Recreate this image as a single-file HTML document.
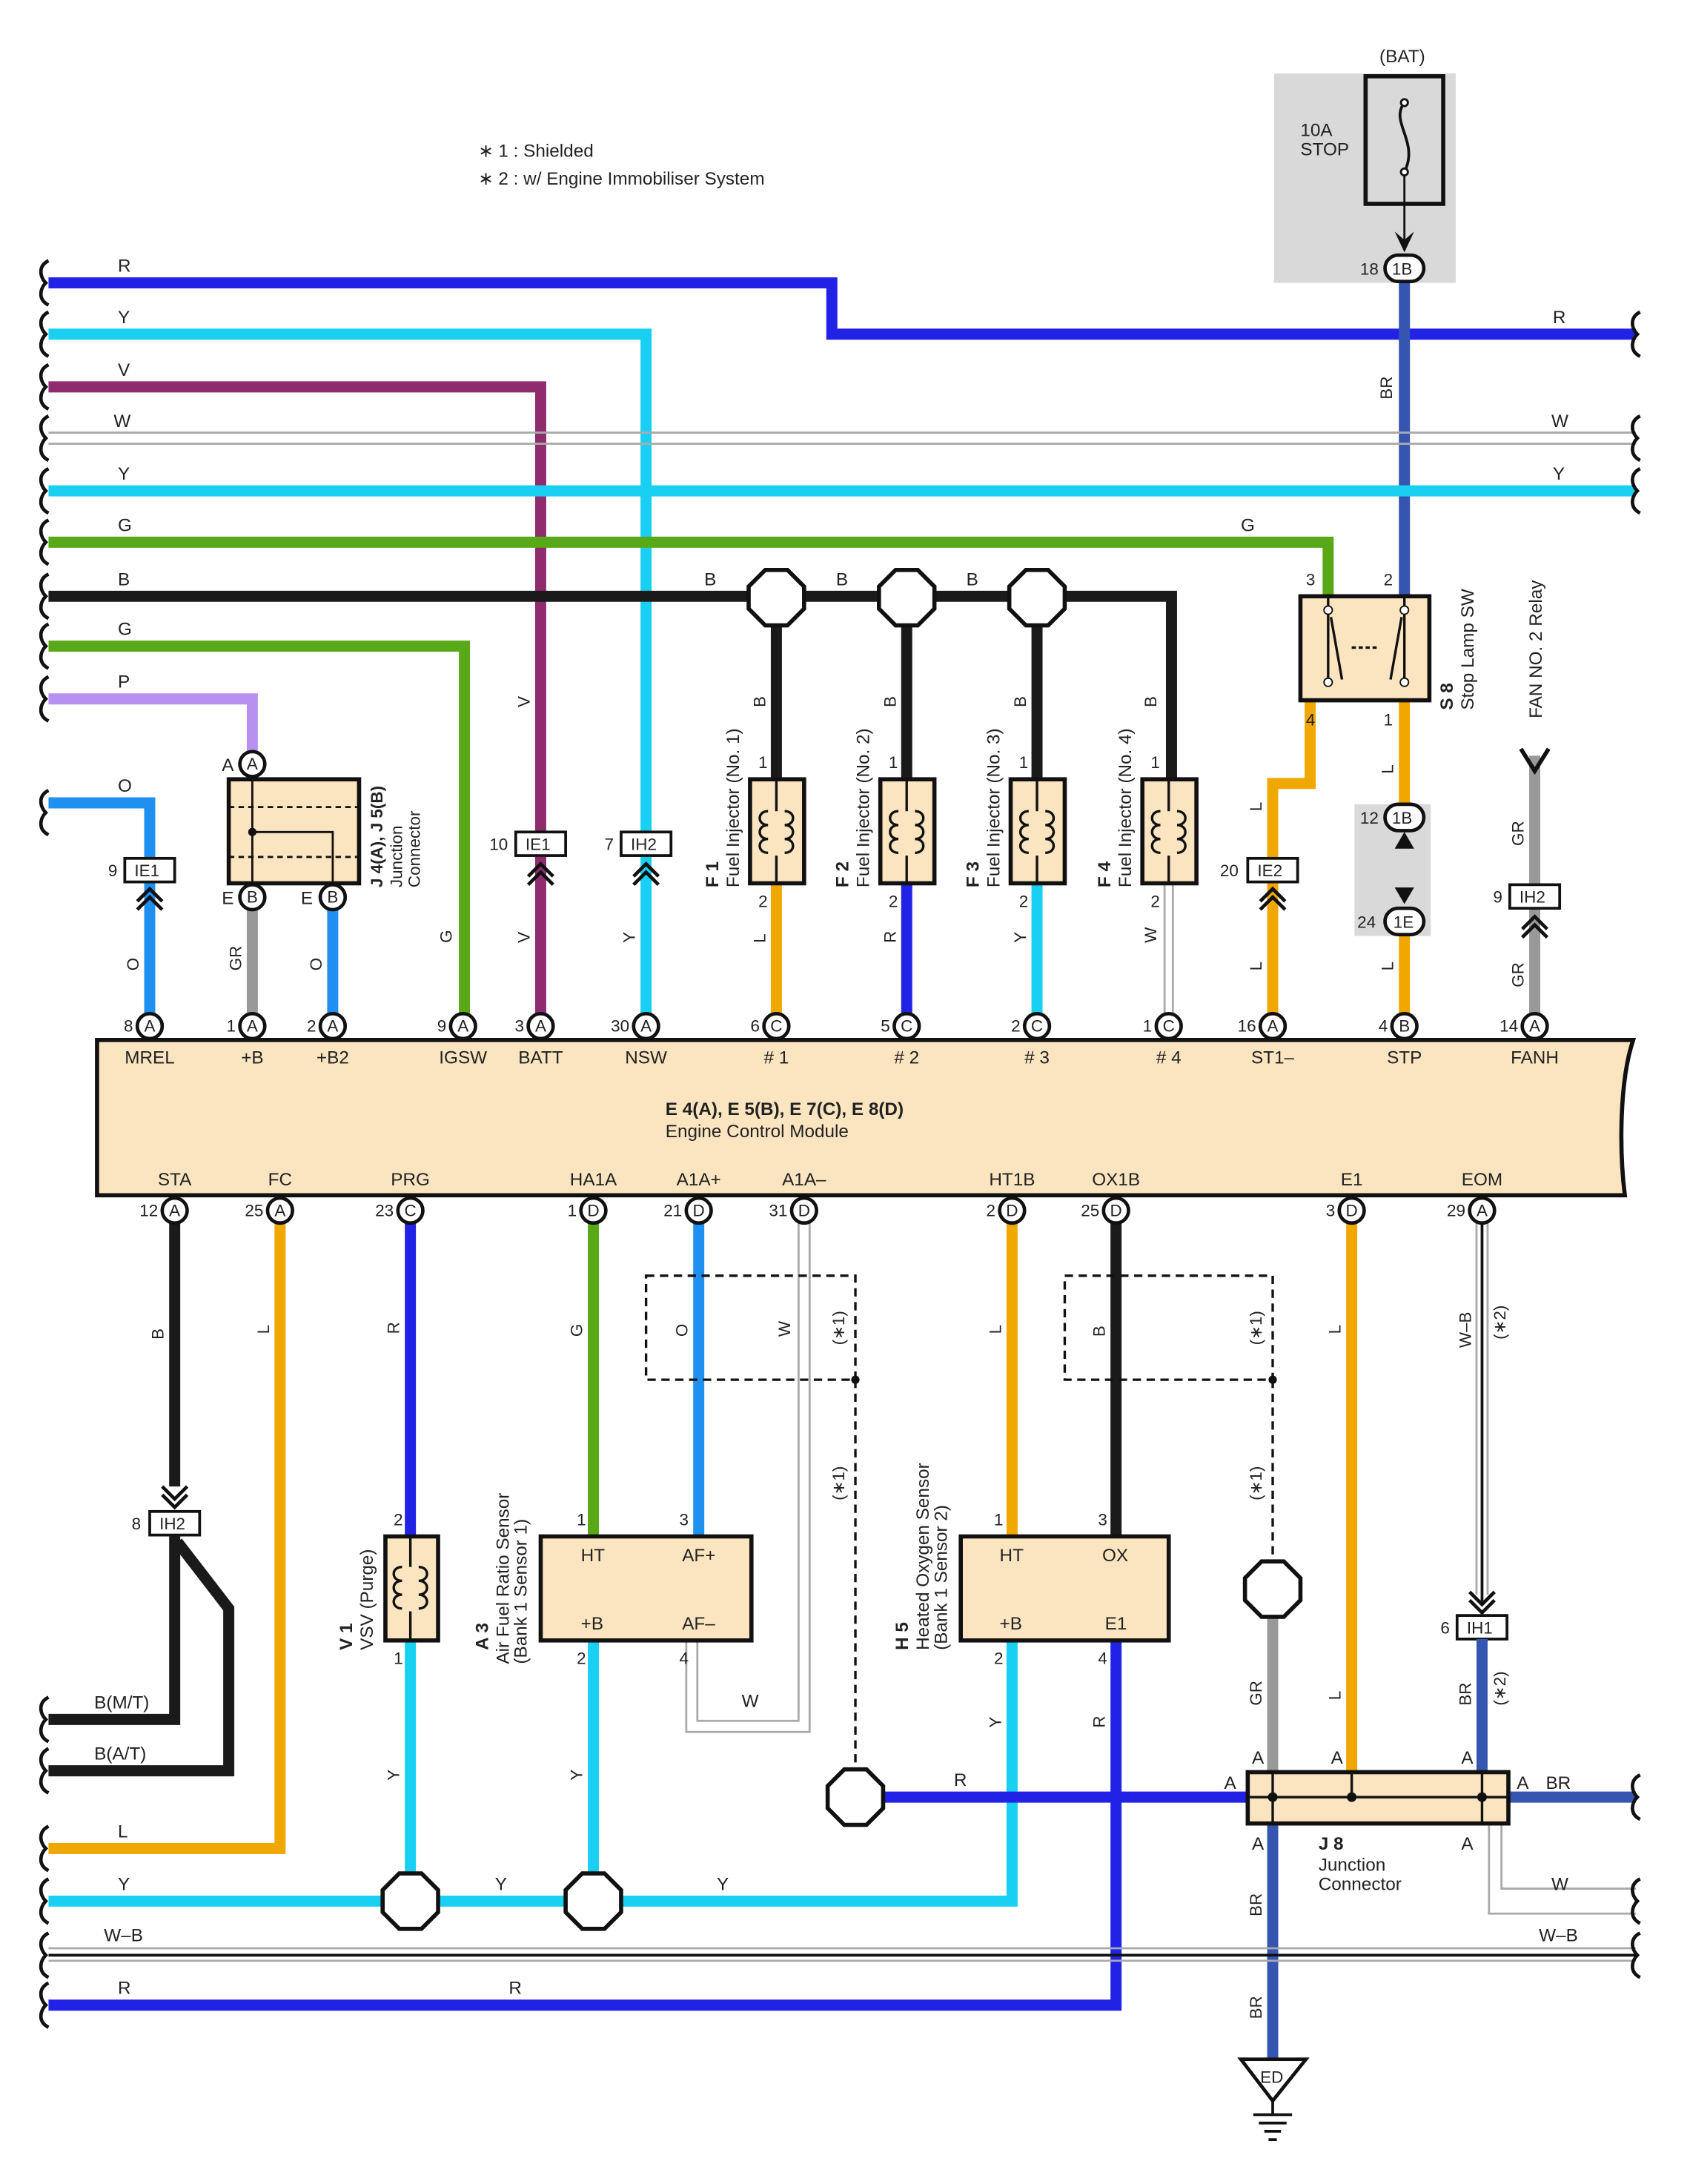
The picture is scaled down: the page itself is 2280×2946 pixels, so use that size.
<!DOCTYPE html>
<html><head><meta charset="utf-8"><style>
html,body{margin:0;padding:0;background:#fff}
svg{display:block}
text{font-family:"Liberation Sans",sans-serif;fill:#222}
</style></head><body>
<svg width="2280" height="2946" viewBox="0 0 1219 1575" preserveAspectRatio="none" xmlns="http://www.w3.org/2000/svg">
<defs>
<g id="wig"><path d="M0,-16 C-8,-12 -6,-4 -2,0 C-6,4 -8,12 0,16" fill="none" stroke="#111" stroke-width="2.5"/></g>
</defs>
<rect width="1219" height="1575" fill="#fff"/>

<!-- notes -->
<text x="345" y="113" font-size="13">∗ 1 : Shielded</text>
<text x="345" y="133" font-size="13">∗ 2 : w/ Engine Immobiliser System</text>

<!-- fuse area -->
<rect x="919" y="53" width="131" height="151" fill="#d9d9d9"/>
<text x="995" y="45" font-size="13">(BAT)</text>
<text x="938" y="98" font-size="13">10A</text>
<text x="938" y="112" font-size="13">STOP</text>
<rect x="985" y="55" width="56" height="92" fill="none" stroke="#111" stroke-width="3"/>
<path d="M1013,74 C1002,88 1024,102 1013,124" fill="none" stroke="#111" stroke-width="2"/>
<circle cx="1013" cy="74" r="2.5" fill="#fff" stroke="#111" stroke-width="1.5"/>
<circle cx="1013" cy="124" r="2.5" fill="#fff" stroke="#111" stroke-width="1.5"/>
<line x1="1013" y1="126" x2="1013" y2="175" stroke="#111" stroke-width="1.5"/>
<path d="M1006,167 L1013,182 L1020,167 L1013,173 Z" fill="#111"/>

<!-- WIRES top -->
<g fill="none" stroke-linejoin="miter">
<polyline points="35,204 600,204 600,241 1180,241" stroke="#2222e6" stroke-width="8"/>
<line x1="1013" y1="204" x2="1013" y2="430" stroke="#3555b0" stroke-width="8"/>
<polyline points="35,241 466,241 466,608" stroke="#1ad0f2" stroke-width="8"/>
<line x1="466" y1="618" x2="466" y2="740" stroke="#1ad0f2" stroke-width="8"/>
<polyline points="35,279 390,279 390,608" stroke="#8e2c6e" stroke-width="8"/>
<line x1="390" y1="618" x2="390" y2="740" stroke="#8e2c6e" stroke-width="8"/>
<line x1="35" y1="312" x2="1180" y2="312" stroke="#aaa" stroke-width="1.5"/>
<line x1="35" y1="320" x2="1180" y2="320" stroke="#aaa" stroke-width="1.5"/>
<line x1="35" y1="354" x2="1180" y2="354" stroke="#1ad0f2" stroke-width="8"/>
<polyline points="35,391 958,391 958,430" stroke="#58a818" stroke-width="8"/>
<polyline points="35,430 845,430 845,562" stroke="#1a1a1a" stroke-width="8"/>
<line x1="560" y1="430" x2="560" y2="562" stroke="#1a1a1a" stroke-width="8"/>
<line x1="654" y1="430" x2="654" y2="562" stroke="#1a1a1a" stroke-width="8"/>
<line x1="748" y1="430" x2="748" y2="562" stroke="#1a1a1a" stroke-width="8"/>
<polyline points="35,466 335,466 335,740" stroke="#58a818" stroke-width="8"/>
<polyline points="35,504 182,504 182,545" stroke="#b890f0" stroke-width="8"/>
<polyline points="35,579 108,579 108,620" stroke="#2090f0" stroke-width="8"/>
<line x1="108" y1="636" x2="108" y2="740" stroke="#2090f0" stroke-width="8"/>
<line x1="182" y1="648" x2="182" y2="740" stroke="#999" stroke-width="8"/>
<line x1="240" y1="648" x2="240" y2="740" stroke="#2090f0" stroke-width="8"/>
<line x1="560" y1="637" x2="560" y2="740" stroke="#f0a800" stroke-width="8"/>
<line x1="654" y1="637" x2="654" y2="740" stroke="#2222e6" stroke-width="8"/>
<line x1="748" y1="637" x2="748" y2="740" stroke="#1ad0f2" stroke-width="8"/>
<line x1="840" y1="637" x2="840" y2="735" stroke="#aaa" stroke-width="1.5"/>
<line x1="846" y1="637" x2="846" y2="735" stroke="#aaa" stroke-width="1.5"/>
<polyline points="945,505 945,565 918,565 918,618" stroke="#f0a800" stroke-width="8"/>
<line x1="918" y1="636" x2="918" y2="740" stroke="#f0a800" stroke-width="8"/>
<line x1="1013" y1="505" x2="1013" y2="740" stroke="#f0a800" stroke-width="8"/>
<line x1="1107" y1="545" x2="1107" y2="740" stroke="#999" stroke-width="8"/>
</g>
<!-- left wiggles -->
<use href="#wig" x="35" y="204"/><use href="#wig" x="35" y="241"/><use href="#wig" x="35" y="279"/>
<use href="#wig" x="35" y="316"/><use href="#wig" x="35" y="354"/><use href="#wig" x="35" y="391"/>
<use href="#wig" x="35" y="430"/><use href="#wig" x="35" y="466"/><use href="#wig" x="35" y="504"/>
<use href="#wig" x="35" y="586"/>
<use href="#wig" x="1183" y="241"/><use href="#wig" x="1183" y="316"/><use href="#wig" x="1183" y="354"/>
<!-- wire labels top -->
<g font-size="13">
<text x="85" y="196">R</text><text x="1120" y="233">R</text>
<text x="85" y="233">Y</text><text x="85" y="271">V</text>
<text x="82" y="308">W</text><text x="1119" y="308">W</text>
<text x="85" y="346">Y</text><text x="1120" y="346">Y</text>
<text x="85" y="383">G</text><text x="895" y="383">G</text>
<text x="85" y="422">B</text><text x="508" y="422">B</text><text x="603" y="422">B</text><text x="697" y="422">B</text>
<text x="85" y="458">G</text><text x="85" y="496">P</text><text x="85" y="571">O</text>
</g>
<g font-size="12">
<text transform="translate(1004,288) rotate(-90)">BR</text>
<text transform="translate(382,510) rotate(-90)">V</text>
<text transform="translate(382,680) rotate(-90)">V</text>
<text transform="translate(458,680) rotate(-90)">Y</text>
<text transform="translate(326,680) rotate(-90)">G</text>
<text transform="translate(100,700) rotate(-90)">O</text>
<text transform="translate(174,700) rotate(-90)">GR</text>
<text transform="translate(232,700) rotate(-90)">O</text>
<text transform="translate(552,510) rotate(-90)">B</text>
<text transform="translate(646,510) rotate(-90)">B</text>
<text transform="translate(740,510) rotate(-90)">B</text>
<text transform="translate(834,510) rotate(-90)">B</text>
<text transform="translate(552,680) rotate(-90)">L</text>
<text transform="translate(646,680) rotate(-90)">R</text>
<text transform="translate(740,680) rotate(-90)">Y</text>
<text transform="translate(834,680) rotate(-90)">W</text>
<text transform="translate(910,585) rotate(-90)">L</text>
<text transform="translate(910,700) rotate(-90)">L</text>
<text transform="translate(1005,558) rotate(-90)">L</text>
<text transform="translate(1005,700) rotate(-90)">L</text>
<text transform="translate(1099,610) rotate(-90)">GR</text>
<text transform="translate(1099,712) rotate(-90)">GR</text>
</g>

<!-- splices top -->
<g fill="#fff" stroke="#111" stroke-width="3">
<polygon points="552,411 568,411 580,423 580,439 568,451 552,451 540,439 540,423" />
<polygon points="646,411 662,411 674,423 674,439 662,451 646,451 634,439 634,423" />
<polygon points="740,411 756,411 768,423 768,439 756,451 740,451 728,439 728,423" />
</g>

<!-- J4/J5 junction -->
<rect x="165" y="562" width="94" height="75" fill="#fbe5c0" stroke="#111" stroke-width="3"/>
<g stroke="#111" stroke-width="1.5" fill="none" stroke-dasharray="4,3">
<line x1="165" y1="582" x2="259" y2="582"/><line x1="165" y1="618" x2="259" y2="618"/>
</g>
<g stroke="#111" stroke-width="1.5" fill="none">
<polyline points="182,560 182,640"/><polyline points="182,600 240,600 240,640"/>
</g>
<circle cx="182" cy="600" r="3" fill="#111"/>
<text font-size="12" transform="translate(276,640) rotate(-90)"><tspan font-weight="bold">J 4(A), J 5(B)</tspan></text>
<text font-size="12" transform="translate(290,640) rotate(-90)">Junction</text>
<text font-size="12" transform="translate(303,640) rotate(-90)">Connector</text>
<g font-size="13"><text x="160" y="556">A</text><text x="160" y="652">E</text><text x="217" y="652">E</text></g>

<!-- injectors -->
<g fill="#fbe5c0" stroke="#111" stroke-width="3">
<rect x="541" y="562" width="39" height="75"/><rect x="635" y="562" width="39" height="75"/>
<rect x="729" y="562" width="39" height="75"/><rect x="824" y="562" width="39" height="75"/>
</g>
<g fill="none" stroke="#111" stroke-width="1.8">
<path d="M560,562 V585 M560,617 V637 M554,585 c-8,0 -8,10 0,10 c-8,0 -8,10 0,10 c-8,0 -8,10 0,10 M566,585 c8,0 8,10 0,10 c8,0 8,10 0,10 c8,0 8,10 0,10"/>
</g>
<g font-size="12">
<text x="547" y="554">1</text><text x="547" y="654">2</text>
<text x="641" y="554">1</text><text x="641" y="654">2</text>
<text x="735" y="554">1</text><text x="735" y="654">2</text>
<text x="830" y="554">1</text><text x="830" y="654">2</text>
</g>
<g font-size="13">
<text transform="translate(518,640) rotate(-90)"><tspan font-weight="bold">F 1</tspan></text>
<text transform="translate(533,640) rotate(-90)">Fuel Injector (No. 1)</text>
<text transform="translate(612,640) rotate(-90)"><tspan font-weight="bold">F 2</tspan></text>
<text transform="translate(627,640) rotate(-90)">Fuel Injector (No. 2)</text>
<text transform="translate(706,640) rotate(-90)"><tspan font-weight="bold">F 3</tspan></text>
<text transform="translate(721,640) rotate(-90)">Fuel Injector (No. 3)</text>
<text transform="translate(801,640) rotate(-90)"><tspan font-weight="bold">F 4</tspan></text>
<text transform="translate(816,640) rotate(-90)">Fuel Injector (No. 4)</text>
</g>
<g fill="none" stroke="#111" stroke-width="1.8">
<path d="M654,562 V585 M654,617 V637 M748,562 V585 M748,617 V637 M843,562 V585 M843,617 V637"/>
<path d="M648,585 c-8,0 -8,10 0,10 c-8,0 -8,10 0,10 c-8,0 -8,10 0,10 M660,585 c8,0 8,10 0,10 c8,0 8,10 0,10 c8,0 8,10 0,10"/>
<path d="M742,585 c-8,0 -8,10 0,10 c-8,0 -8,10 0,10 c-8,0 -8,10 0,10 M754,585 c8,0 8,10 0,10 c8,0 8,10 0,10 c8,0 8,10 0,10"/>
<path d="M837,585 c-8,0 -8,10 0,10 c-8,0 -8,10 0,10 c-8,0 -8,10 0,10 M849,585 c8,0 8,10 0,10 c8,0 8,10 0,10 c8,0 8,10 0,10"/>
</g>

<!-- stop lamp sw -->
<rect x="938" y="430" width="93" height="75" fill="#fbe5c0" stroke="#111" stroke-width="3"/>
<g stroke="#111" stroke-width="1.8" fill="none">
<line x1="958" y1="430" x2="958" y2="440"/><line x1="958" y1="440" x2="958" y2="492"/>
<line x1="1013" y1="430" x2="1013" y2="440"/>
<line x1="960" y1="445" x2="968" y2="490"/><line x1="1013" y1="440" x2="1013" y2="492"/>
<line x1="1011" y1="445" x2="1003" y2="490"/>
<line x1="975" y1="467" x2="995" y2="467" stroke-dasharray="3,2"/>
</g>
<circle cx="958" cy="440" r="3" fill="#fff" stroke="#111"/><circle cx="958" cy="492" r="3" fill="#fff" stroke="#111"/>
<circle cx="1013" cy="440" r="3" fill="#fff" stroke="#111"/><circle cx="1013" cy="492" r="3" fill="#fff" stroke="#111"/>
<g font-size="12"><text x="942" y="422">3</text><text x="998" y="422">2</text><text x="942" y="523">4</text><text x="998" y="523">1</text></g>
<text font-size="13" transform="translate(1048,512) rotate(-90)"><tspan font-weight="bold">S 8</tspan></text>
<text font-size="13" transform="translate(1063,512) rotate(-90)">Stop Lamp SW</text>
<text font-size="13" transform="translate(1112,518) rotate(-90)">FAN NO. 2 Relay</text>
<polyline points="1097,540 1107,556 1117,540" fill="none" stroke="#111" stroke-width="3"/>

<!-- 1B/1E grey -->
<rect x="977" y="580" width="55" height="95" fill="#d9d9d9"/>
<path d="M1006,612 L1013,600 L1020,612 Z M1006,640 L1013,652 L1020,640 Z" fill="#111"/>
<!-- 1B ovals -->
<g fill="#fff" stroke="#111" stroke-width="2.5">
<rect x="999" y="184" width="28" height="19" rx="9.5"/>
<rect x="999" y="580" width="28" height="19" rx="9.5"/>
<rect x="999" y="655" width="28" height="19" rx="9.5"/>
</g>
<g font-size="12"><text x="1004" y="198">1B</text><text x="1004" y="594">1B</text><text x="1005" y="669">1E</text>
<text x="981" y="198">18</text><text x="981" y="594">12</text><text x="979" y="669">24</text></g>

<!-- small connectors -->
<g fill="#fff" stroke="#111" stroke-width="2">
<rect x="90" y="619" width="36" height="17"/>
<rect x="372" y="600" width="36" height="17"/>
<rect x="448" y="600" width="36" height="17"/>
<rect x="900" y="619" width="36" height="17"/>
<rect x="1089" y="638" width="36" height="17"/>
<rect x="108" y="1090" width="36" height="17"/>
<rect x="1051" y="1165" width="36" height="17"/>
</g>
<g font-size="12">
<text x="97" y="632">IE1</text><text x="78" y="632">9</text>
<text x="379" y="613">IE1</text><text x="353" y="613">10</text>
<text x="455" y="613">IH2</text><text x="436" y="613">7</text>
<text x="907" y="632">IE2</text><text x="880" y="632">20</text>
<text x="1096" y="651">IH2</text><text x="1077" y="651">9</text>
<text x="115" y="1103">IH2</text><text x="95" y="1103">8</text>
<text x="1058" y="1178">IH1</text><text x="1039" y="1178">6</text>
</g>
<g fill="none" stroke="#111" stroke-width="2.5">
<polyline points="99,650 108,641 117,650"/><polyline points="99,656 108,647 117,656"/>
<polyline points="381,632 390,623 399,632"/><polyline points="381,638 390,629 399,638"/>
<polyline points="457,632 466,623 475,632"/><polyline points="457,638 466,629 475,638"/>
<polyline points="909,650 918,641 927,650"/><polyline points="909,656 918,647 927,656"/>
<polyline points="1098,670 1107,661 1116,670"/><polyline points="1098,676 1107,667 1116,676"/>
<polyline points="117,1072 126,1081 135,1072"/><polyline points="117,1078 126,1087 135,1078"/>
<polyline points="1060,1148 1069,1157 1078,1148"/><polyline points="1060,1154 1069,1163 1078,1154"/>
</g>

<!-- ECM -->
<path d="M70,750 H1178 C1168,780 1168,830 1172,862 H70 Z" fill="#fbe5c0" stroke="#111" stroke-width="3"/>
<text x="480" y="804" font-size="13" font-weight="bold">E 4(A), E 5(B), E 7(C), E 8(D)</text>
<text x="480" y="820" font-size="13">Engine Control Module</text>
<g font-size="13" text-anchor="middle">
<text x="108" y="767">MREL</text><text x="182" y="767">+B</text><text x="240" y="767">+B2</text>
<text x="334" y="767">IGSW</text><text x="390" y="767">BATT</text><text x="466" y="767">NSW</text>
<text x="560" y="767"># 1</text><text x="654" y="767"># 2</text><text x="748" y="767"># 3</text><text x="843" y="767"># 4</text>
<text x="918" y="767">ST1–</text><text x="1013" y="767">STP</text><text x="1107" y="767">FANH</text>
<text x="126" y="855">STA</text><text x="202" y="855">FC</text><text x="296" y="855">PRG</text>
<text x="428" y="855">HA1A</text><text x="504" y="855">A1A+</text><text x="580" y="855">A1A–</text>
<text x="730" y="855">HT1B</text><text x="805" y="855">OX1B</text><text x="975" y="855">E1</text><text x="1069" y="855">EOM</text>
</g>

<!-- BOTTOM wires -->
<g fill="none">
<line x1="126" y1="882" x2="126" y2="1072" stroke="#1a1a1a" stroke-width="8"/>
<polyline points="126,1107 126,1240 35,1240" stroke="#1a1a1a" stroke-width="8"/>
<polyline points="128,1112 165,1160 165,1277 35,1277" stroke="#1a1a1a" stroke-width="8"/>
<polyline points="202,882 202,1333 35,1333" stroke="#f0a800" stroke-width="8"/>
<line x1="296" y1="882" x2="296" y2="1108" stroke="#2222e6" stroke-width="8"/>
<line x1="296" y1="1183" x2="296" y2="1371" stroke="#1ad0f2" stroke-width="8"/>
<line x1="428" y1="882" x2="428" y2="1108" stroke="#58a818" stroke-width="8"/>
<line x1="428" y1="1183" x2="428" y2="1371" stroke="#1ad0f2" stroke-width="8"/>
<line x1="504" y1="882" x2="504" y2="1108" stroke="#2090f0" stroke-width="8"/>
<polyline points="576,882 576,1241 503,1241 503,1183" stroke="#aaa" stroke-width="1.5"/>
<polyline points="584,882 584,1249 495,1249 495,1183" stroke="#aaa" stroke-width="1.5"/>
<line x1="730" y1="882" x2="730" y2="1108" stroke="#f0a800" stroke-width="8"/>
<line x1="805" y1="882" x2="805" y2="1108" stroke="#1a1a1a" stroke-width="8"/>
<polyline points="730,1183 730,1371 35,1371" stroke="#1ad0f2" stroke-width="8"/>
<polyline points="805,1183 805,1446 35,1446" stroke="#2222e6" stroke-width="8"/>
<line x1="617" y1="1296" x2="900" y2="1296" stroke="#2222e6" stroke-width="8"/>
<line x1="918" y1="1160" x2="918" y2="1280" stroke="#999" stroke-width="8"/>
<line x1="975" y1="882" x2="975" y2="1280" stroke="#f0a800" stroke-width="8"/>
<line x1="1065" y1="882" x2="1065" y2="1150" stroke="#aaa" stroke-width="1.5"/>
<line x1="1073" y1="882" x2="1073" y2="1150" stroke="#aaa" stroke-width="1.5"/>
<line x1="1069" y1="882" x2="1069" y2="1155" stroke="#111" stroke-width="2"/>
<line x1="1069" y1="1182" x2="1069" y2="1280" stroke="#3555b0" stroke-width="8"/>
<line x1="1088" y1="1296" x2="1180" y2="1296" stroke="#3555b0" stroke-width="8"/>
<line x1="918" y1="1315" x2="918" y2="1485" stroke="#3555b0" stroke-width="8"/>
<polyline points="1074,1315 1074,1380 1180,1380" stroke="#aaa" stroke-width="1.5"/>
<polyline points="1083,1315 1083,1362 1180,1362" stroke="#aaa" stroke-width="1.5"/>
<line x1="35" y1="1405" x2="1180" y2="1405" stroke="#aaa" stroke-width="1.5"/>
<line x1="35" y1="1414" x2="1180" y2="1414" stroke="#aaa" stroke-width="1.5"/>
<line x1="35" y1="1410" x2="1180" y2="1410" stroke="#111" stroke-width="2"/>
<!-- dashed shields -->
<g stroke="#111" stroke-width="1.8" stroke-dasharray="6,4">
<rect x="466" y="920" width="151" height="75"/>
<rect x="768" y="920" width="150" height="75"/>
<line x1="617" y1="995" x2="617" y2="1276"/>
<line x1="918" y1="995" x2="918" y2="1126"/>
</g>
</g>
<circle cx="617" cy="995" r="3" fill="#111"/><circle cx="918" cy="995" r="3" fill="#111"/>
<use href="#wig" x="35" y="1240"/><use href="#wig" x="35" y="1277"/><use href="#wig" x="35" y="1333"/>
<use href="#wig" x="35" y="1371"/><use href="#wig" x="35" y="1410"/><use href="#wig" x="35" y="1446"/>
<use href="#wig" x="1183" y="1296"/><use href="#wig" x="1183" y="1371"/><use href="#wig" x="1183" y="1410"/>

<!-- bottom splices -->
<g fill="#fff" stroke="#111" stroke-width="3">
<polygon points="288,1351 304,1351 316,1363 316,1379 304,1391 288,1391 276,1379 276,1363"/>
<polygon points="420,1351 436,1351 448,1363 448,1379 436,1391 420,1391 408,1379 408,1363"/>
<polygon points="609,1276 625,1276 637,1288 637,1304 625,1316 609,1316 597,1304 597,1288"/>
<polygon points="910,1126 926,1126 938,1138 938,1154 926,1166 910,1166 898,1154 898,1138"/>
</g>

<!-- VSV -->
<rect x="278" y="1108" width="38" height="75" fill="#fbe5c0" stroke="#111" stroke-width="3"/>
<path d="M296,1108 V1130 M296,1162 V1183 M290,1130 c-8,0 -8,10 0,10 c-8,0 -8,10 0,10 c-8,0 -8,10 0,10 M302,1130 c8,0 8,10 0,10 c8,0 8,10 0,10 c8,0 8,10 0,10" fill="none" stroke="#111" stroke-width="1.8"/>
<text x="284" y="1100" font-size="12">2</text><text x="284" y="1200" font-size="12">1</text>
<text font-size="13" transform="translate(254,1190) rotate(-90)"><tspan font-weight="bold">V 1</tspan></text>
<text font-size="13" transform="translate(269,1190) rotate(-90)">VSV (Purge)</text>

<!-- A3 -->
<rect x="390" y="1108" width="152" height="75" fill="#fbe5c0" stroke="#111" stroke-width="3"/>
<g font-size="13"><text x="419" y="1126">HT</text><text x="492" y="1126">AF+</text><text x="419" y="1175">+B</text><text x="492" y="1175">AF–</text></g>
<g font-size="12"><text x="416" y="1100">1</text><text x="490" y="1100">3</text><text x="416" y="1200">2</text><text x="490" y="1200">4</text></g>
<text font-size="13" transform="translate(352,1190) rotate(-90)"><tspan font-weight="bold">A 3</tspan></text>
<text font-size="13" transform="translate(367,1200) rotate(-90)">Air Fuel Ratio Sensor</text>
<text font-size="13" transform="translate(380,1200) rotate(-90)">(Bank 1 Sensor 1)</text>

<!-- H5 -->
<rect x="693" y="1108" width="150" height="75" fill="#fbe5c0" stroke="#111" stroke-width="3"/>
<g font-size="13"><text x="721" y="1126">HT</text><text x="795" y="1126">OX</text><text x="721" y="1175">+B</text><text x="797" y="1175">E1</text></g>
<g font-size="12"><text x="717" y="1100">1</text><text x="792" y="1100">3</text><text x="717" y="1200">2</text><text x="792" y="1200">4</text></g>
<text font-size="13" transform="translate(655,1190) rotate(-90)"><tspan font-weight="bold">H 5</tspan></text>
<text font-size="13" transform="translate(670,1190) rotate(-90)">Heated Oxygen Sensor</text>
<text font-size="13" transform="translate(683,1190) rotate(-90)">(Bank 1 Sensor 2)</text>

<!-- J8 -->
<rect x="900" y="1278" width="188" height="37" fill="#fbe5c0" stroke="#111" stroke-width="3"/>
<g stroke="#111" stroke-width="1.8"><line x1="900" y1="1296" x2="1088" y2="1296"/><line x1="918" y1="1278" x2="918" y2="1315"/><line x1="975" y1="1278" x2="975" y2="1296"/><line x1="1069" y1="1278" x2="1069" y2="1315"/></g>
<circle cx="918" cy="1296" r="3.5" fill="#111"/><circle cx="975" cy="1296" r="3.5" fill="#111"/><circle cx="1069" cy="1296" r="3.5" fill="#111"/>
<g font-size="13"><text x="883" y="1290">A</text><text x="903" y="1272">A</text><text x="960" y="1272">A</text><text x="1054" y="1272">A</text>
<text x="1094" y="1290">A</text><text x="1115" y="1290">BR</text>
<text x="903" y="1334">A</text><text x="1054" y="1334">A</text>
<text x="951" y="1334" font-weight="bold">J 8</text><text x="951" y="1349">Junction</text><text x="951" y="1363">Connector</text></g>

<!-- ground -->
<polygon points="895,1485 942,1485 918,1515" fill="#fff" stroke="#111" stroke-width="2.5"/>
<text x="909" y="1502" font-size="12">ED</text>
<g stroke="#111" stroke-width="2"><line x1="918" y1="1515" x2="918" y2="1525"/><line x1="904" y1="1525" x2="932" y2="1525"/><line x1="908" y1="1531" x2="928" y2="1531"/><line x1="912" y1="1537" x2="924" y2="1537"/><line x1="915" y1="1543" x2="921" y2="1543"/></g>

<!-- bottom labels -->
<g font-size="13">
<text x="68" y="1232">B(M/T)</text><text x="68" y="1269">B(A/T)</text><text x="85" y="1325">L</text>
<text x="85" y="1363">Y</text><text x="357" y="1363">Y</text><text x="517" y="1363">Y</text>
<text x="75" y="1400">W–B</text><text x="1110" y="1400">W–B</text><text x="1119" y="1363">W</text>
<text x="85" y="1438">R</text><text x="367" y="1438">R</text><text x="688" y="1288">R</text>
<text x="535" y="1231">W</text>
</g>
<g font-size="12">
<text transform="translate(118,966) rotate(-90)">B</text>
<text transform="translate(194,962) rotate(-90)">L</text>
<text transform="translate(288,962) rotate(-90)">R</text>
<text transform="translate(420,964) rotate(-90)">G</text>
<text transform="translate(496,964) rotate(-90)">O</text>
<text transform="translate(570,964) rotate(-90)">W</text>
<text transform="translate(609,970) rotate(-90)">(∗1)</text>
<text transform="translate(609,1082) rotate(-90)">(∗1)</text>
<text transform="translate(722,962) rotate(-90)">L</text>
<text transform="translate(797,964) rotate(-90)">B</text>
<text transform="translate(910,970) rotate(-90)">(∗1)</text>
<text transform="translate(910,1082) rotate(-90)">(∗1)</text>
<text transform="translate(967,962) rotate(-90)">L</text>
<text transform="translate(1061,972) rotate(-90)">W–B</text>
<text transform="translate(1086,966) rotate(-90)">(∗2)</text>
<text transform="translate(288,1284) rotate(-90)">Y</text>
<text transform="translate(420,1284) rotate(-90)">Y</text>
<text transform="translate(722,1246) rotate(-90)">Y</text>
<text transform="translate(797,1246) rotate(-90)">R</text>
<text transform="translate(910,1230) rotate(-90)">GR</text>
<text transform="translate(967,1226) rotate(-90)">L</text>
<text transform="translate(1061,1230) rotate(-90)">BR</text>
<text transform="translate(1086,1230) rotate(-90)">(∗2)</text>
<text transform="translate(910,1382) rotate(-90)">BR</text>
<text transform="translate(910,1456) rotate(-90)">BR</text>
</g>

<!-- pin circles -->
<g fill="#fff" stroke="#111" stroke-width="2.5">
<circle cx="108" cy="740" r="9"/><circle cx="182" cy="740" r="9"/><circle cx="240" cy="740" r="9"/>
<circle cx="334" cy="740" r="9"/><circle cx="390" cy="740" r="9"/><circle cx="466" cy="740" r="9"/>
<circle cx="560" cy="740" r="9"/><circle cx="654" cy="740" r="9"/><circle cx="748" cy="740" r="9"/>
<circle cx="843" cy="740" r="9"/><circle cx="918" cy="740" r="9"/><circle cx="1013" cy="740" r="9"/>
<circle cx="1107" cy="740" r="9"/>
<circle cx="126" cy="873" r="9"/><circle cx="202" cy="873" r="9"/><circle cx="296" cy="873" r="9"/>
<circle cx="428" cy="873" r="9"/><circle cx="504" cy="873" r="9"/><circle cx="580" cy="873" r="9"/>
<circle cx="730" cy="873" r="9"/><circle cx="805" cy="873" r="9"/><circle cx="975" cy="873" r="9"/>
<circle cx="1069" cy="873" r="9"/>
<circle cx="182" cy="551" r="9"/><circle cx="182" cy="647" r="9"/><circle cx="240" cy="647" r="9"/>
</g>
<g font-size="12" text-anchor="middle">
<text x="108" y="744">A</text><text x="182" y="744">A</text><text x="240" y="744">A</text><text x="334" y="744">A</text>
<text x="390" y="744">A</text><text x="466" y="744">A</text><text x="560" y="744">C</text><text x="654" y="744">C</text>
<text x="748" y="744">C</text><text x="843" y="744">C</text><text x="918" y="744">A</text><text x="1013" y="744">B</text><text x="1107" y="744">A</text>
<text x="126" y="877">A</text><text x="202" y="877">A</text><text x="296" y="877">C</text><text x="428" y="877">D</text>
<text x="504" y="877">D</text><text x="580" y="877">D</text><text x="730" y="877">D</text><text x="805" y="877">D</text>
<text x="975" y="877">D</text><text x="1069" y="877">A</text>
<text x="182" y="555">A</text><text x="182" y="651">B</text><text x="240" y="651">B</text>
</g>
<g font-size="12" text-anchor="end">
<text x="96" y="744">8</text><text x="170" y="744">1</text><text x="228" y="744">2</text><text x="322" y="744">9</text>
<text x="378" y="744">3</text><text x="454" y="744">30</text><text x="548" y="744">6</text><text x="642" y="744">5</text>
<text x="736" y="744">2</text><text x="831" y="744">1</text><text x="906" y="744">16</text><text x="1001" y="744">4</text><text x="1095" y="744">14</text>
<text x="114" y="877">12</text><text x="190" y="877">25</text><text x="284" y="877">23</text><text x="416" y="877">1</text>
<text x="492" y="877">21</text><text x="568" y="877">31</text><text x="718" y="877">2</text><text x="793" y="877">25</text>
<text x="963" y="877">3</text><text x="1057" y="877">29</text>
</g>
</svg>
</body></html>
